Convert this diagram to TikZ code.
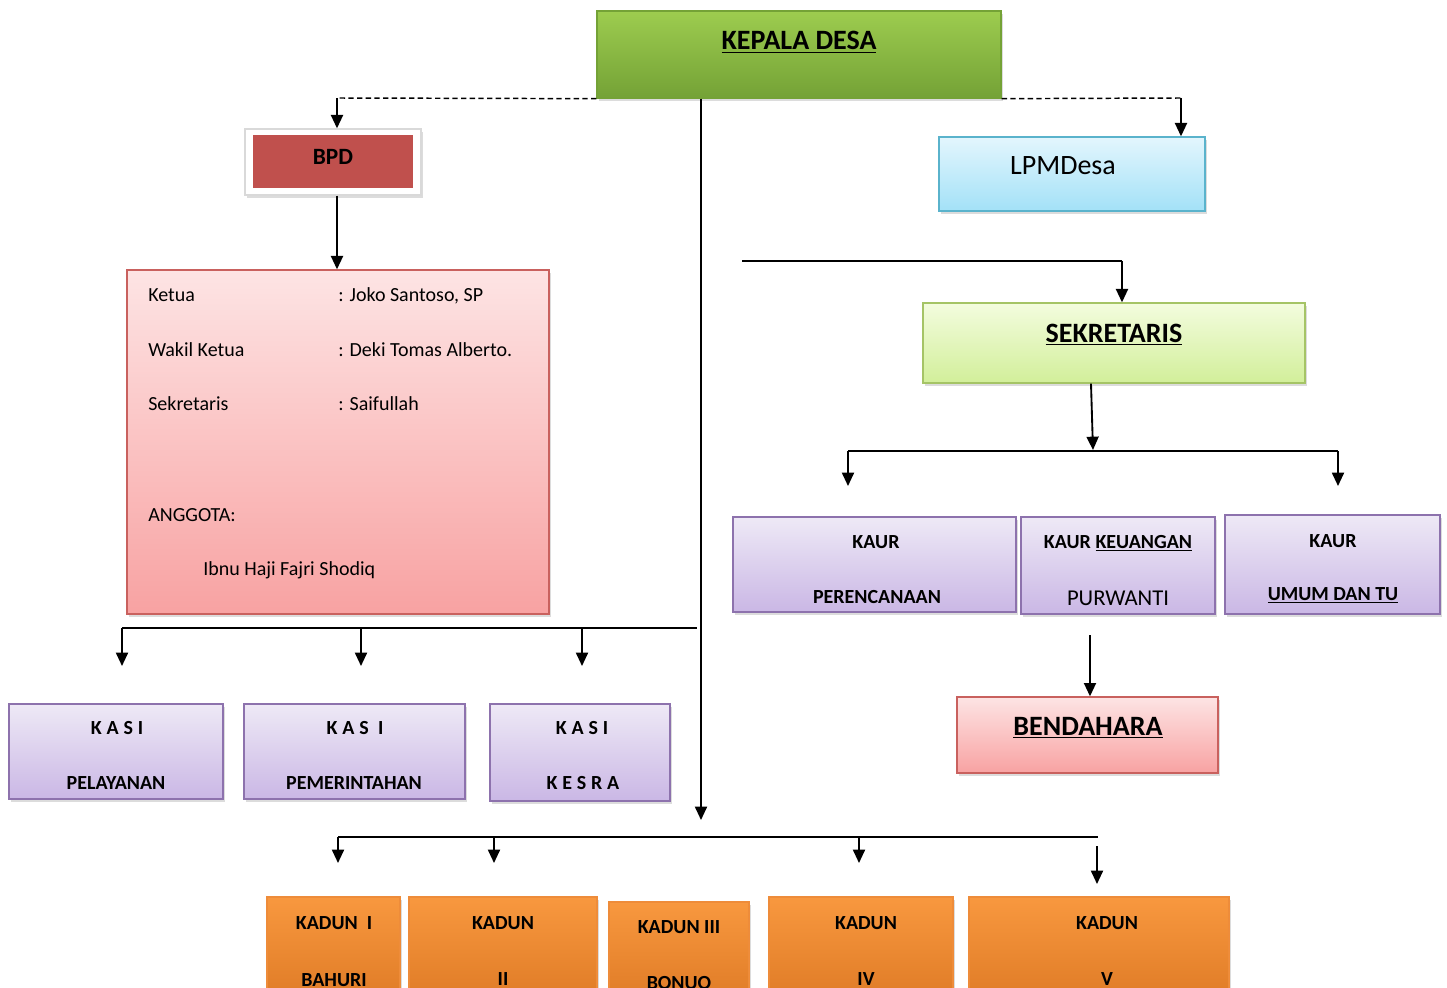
\documentclass[tikz,border=0pt]{standalone}
\usepackage{fontspec}
\setmainfont{Carlito}
\newfontfamily\spacedfont[LetterSpace=24]{Carlito}
\usetikzlibrary{fit,shadows,arrows.meta,calc}
\definecolor{kgTop}{HTML}{9DCC4F}
\definecolor{kgBot}{HTML}{74A236}
\definecolor{bpdRed}{HTML}{C0504D}
\definecolor{pkTop}{HTML}{FDE4E4}
\definecolor{pkBot}{HTML}{F8A2A2}
\definecolor{pkLine}{HTML}{C9615E}
\definecolor{cyTop}{HTML}{E3F6FD}
\definecolor{cyBot}{HTML}{A3E1F7}
\definecolor{cyLine}{HTML}{5AB3CC}
\definecolor{lgTop}{HTML}{F3FCDE}
\definecolor{lgBot}{HTML}{D2EF9A}
\definecolor{lgLine}{HTML}{A5C466}
\definecolor{puTop}{HTML}{EEE9F6}
\definecolor{puBot}{HTML}{CAB7E5}
\definecolor{puLine}{HTML}{8D72AD}
\definecolor{orTop}{HTML}{F8983F}
\definecolor{orBot}{HTML}{DE7A25}
\definecolor{orLine}{HTML}{EE8C3A}
\begin{document}
\begin{tikzpicture}[x=0.75pt,y=-0.75pt,
  bx/.style={inner sep=0pt, draw, line width=1pt,
    drop shadow={opacity=0.28, shadow xshift=1.8pt, shadow yshift=-2.4pt}},
  kepalabox/.style={bx, draw=kgBot, top color=kgTop, bottom color=kgBot},
  pinkbox/.style={bx, draw=pkLine, top color=pkTop, bottom color=pkBot},
  cyanbox/.style={bx, draw=cyLine, top color=cyTop, bottom color=cyBot},
  lgbox/.style={bx, draw=lgLine, top color=lgTop, bottom color=lgBot},
  purplebox/.style={bx, draw=puLine, top color=puTop, bottom color=puBot},
  orangebox/.style={bx, draw=orLine, top color=orTop, bottom color=orBot},
  tb/.style={inner sep=0pt, anchor=base, font=\fontsize{15pt}{18pt}\selectfont\bfseries},
  tsp/.style={inner sep=0pt, anchor=base, font=\fontsize{15pt}{18pt}\selectfont\spacedfont\bfseries},
  tbig/.style={inner sep=0pt, anchor=base, font=\fontsize{21pt}{25pt}\selectfont\bfseries},
  tinfo/.style={inner sep=0pt, anchor=base west, font=\fontsize{15pt}{18pt}\selectfont},
  ln/.style={line width=1.4pt},
  arr/.style={line width=1.4pt, -{Triangle[width=9pt,length=10pt]}},
]
\useasboundingbox (0,0) rectangle (1447,988);
\clip (0,0) rectangle (1447,988);

\coordinate (dl) at (337,98);
\coordinate (dr) at (1181,98);
\coordinate (mainend) at (701,820);

% ---------- boxes ----------
\node[kepalabox, fit={(597,11) (1001,98)}] (kepala) {};
\node[tbig] (kepalaT) at (799,50) {\underline{KEPALA DESA}};

\node[bx, draw=black!15, fill=white, fit={(245,129) (421,195)}] (bpdo) {};
\node[inner sep=0pt, fill=bpdRed, fit={(253,135) (413,188)}] (bpd) {};
\node[inner sep=0pt, anchor=base, font=\fontsize{17.5pt}{20pt}\selectfont\bfseries] (bpdT) at (333,165) {BPD};

\node[pinkbox, fit={(127,270) (549,614)}] (info) {};
\node[tinfo] (i1a) at (148,301) {Ketua};
\node[tinfo] (i1b) at (338,301) {: Joko Santoso, SP};
\node[tinfo] (i2a) at (148,356) {Wakil Ketua};
\node[tinfo] (i2b) at (338,356) {: Deki Tomas Alberto.};
\node[tinfo] (i3a) at (148,410) {Sekretaris};
\node[tinfo] (i3b) at (338,410) {: Saifullah};
\node[tinfo] (i4) at (148,521) {ANGGOTA:};
\node[tinfo] (i5) at (203,575) {Ibnu Haji Fajri Shodiq};

\node[cyanbox, fit={(939,137) (1205,211)}] (lpm) {};
\node[inner sep=0pt, anchor=base, font=\fontsize{21pt}{25pt}\selectfont] (lpmT) at (1063,175) {LPMDesa};

\node[lgbox, fit={(923,303) (1305,383)}] (sek) {};
\node[tbig] (sekT) at (1114,342) {\underline{SEKRETARIS}};

\node[purplebox, fit={(733,517) (1016,612)}] (kaur1) {};
\node[tb] (kaur1a) at (876,548) {KAUR};
\node[tb] (kaur1b) at (877,603) {PERENCANAAN};
\node[purplebox, fit={(1021,517) (1215,614)}] (kaur2) {};
\node[tb] (kaur2a) at (1118,548) {KAUR \underline{KEUANGAN}};
\node[inner sep=0pt, anchor=base, font=\fontsize{17pt}{20pt}\selectfont] (kaur2b) at (1118,605) {PURWANTI};
\node[purplebox, fit={(1225,515) (1440,614)}] (kaur3) {};
\node[tb] (kaur3a) at (1333,547) {KAUR};
\node[tb] (kaur3b) at (1333,600) {\underline{UMUM DAN TU}};

\node[pinkbox, fit={(957,697) (1218,773)}] (bend) {};
\node[tbig] (bendT) at (1088,735) {\underline{BENDAHARA}};

\node[purplebox, fit={(9,704) (223,799)}] (kasi1) {};
\node[tsp] (kasi1a) at (117,734) {KASI};
\node[tb] (kasi1b) at (116,789) {PELAYANAN};
\node[purplebox, fit={(244,704) (465,799)}] (kasi2) {};
\node[tsp] (kasi2a) at (355,734) {KAS I};
\node[tb] (kasi2b) at (354,789) {PEMERINTAHAN};
\node[purplebox, fit={(490,704) (670,801)}] (kasi3) {};
\node[tsp] (kasi3a) at (582,734) {KASI};
\node[tsp] (kasi3b) at (583,789) {KESRA};

\node[orangebox, fit={(267,897) (400,1005)}] (kadun1) {};
\node[tb] (kadun1a) at (334,929) {KADUN\ \ I};
\node[tb] (kadun1b) at (334,986) {BAHURI};
\node[orangebox, fit={(409,897) (597,1005)}] (kadun2) {};
\node[tb] (kadun2a) at (503,929) {KADUN};
\node[tb] (kadun2b) at (503,985) {II};
\node[orangebox, fit={(609,902) (749,1005)}] (kadun3) {};
\node[tb] (kadun3a) at (679,933) {KADUN III};
\node[tb] (kadun3b) at (679,989) {BONUO};
\node[orangebox, fit={(769,897) (953,1005)}] (kadun4) {};
\node[tb] (kadun4a) at (866,929) {KADUN};
\node[tb] (kadun4b) at (866,985) {IV};
\node[orangebox, fit={(969,897) (1229,1005)}] (kadun5) {};
\node[tb] (kadun5a) at (1107,929) {KADUN};
\node[tb] (kadun5b) at (1107,985) {V};

% ---------- connectors ----------
\draw[line width=1.1pt, dash pattern=on 4pt off 2.5pt] (kepala.south west) -- (dl);
\draw[line width=1.1pt, dash pattern=on 4pt off 2.5pt] (kepala.south east) -- (dr);
\draw[arr] (dl) -- (dl |- bpdo.north);
\draw[arr] (dr) -- (dr |- lpm.north);
\draw[arr] (kepala.south -| mainend) -- (mainend);
\draw[arr] (bpdo.south -| dl) -- (info.north -| dl);

% KASI bus
\coordinate (kbL) at (122,628);
\coordinate (kbR) at (697,628);
\coordinate (k1e) at (122,666);
\coordinate (k2e) at (361,666);
\coordinate (k3e) at (582,666);
\draw[ln] (kbL) -- (kbR);
\draw[arr] (kbL) -- (k1e);
\draw[arr] (k2e |- kbL) -- (k2e);
\draw[arr] (k3e |- kbL) -- (k3e);

% SEKRETARIS feed
\coordinate (sf) at (742,261);
\coordinate (sk) at (1122,261);
\draw[ln] (sf) -- (sk);
\draw[arr] (sk) -- (sk |- sek.north);

% KAUR bus
\coordinate (kuL) at (848,451);
\coordinate (kuR) at (1338,451);
\coordinate (kuM) at (1093,450);
\coordinate (ku1e) at (848,486);
\coordinate (ku3e) at (1338,486);
\draw[arr] ($(sek.south)+(-23,0)$) -- (kuM);
\draw[ln] (kuL) -- (kuR);
\draw[arr] (kuL) -- (ku1e);
\draw[arr] (kuR) -- (ku3e);

% to BENDAHARA
\coordinate (bs) at (1090,635);
\draw[arr] (bs) -- (bs |- bend.north);

% KADUN bus
\coordinate (kdL) at (338,837);
\coordinate (kdR) at (1098,837);
\coordinate (kd1e) at (338,863);
\coordinate (kd2e) at (494,863);
\coordinate (kd4e) at (859,863);
\coordinate (kd5s) at (1097,846);
\coordinate (kd5e) at (1097,884);
\draw[ln] (kdL) -- (kdR);
\draw[arr] (kdL) -- (kd1e);
\draw[arr] (kd2e |- kdL) -- (kd2e);
\draw[arr] (kd4e |- kdL) -- (kd4e);
\draw[arr] (kd5s) -- (kd5e);
\end{tikzpicture}
\end{document}
